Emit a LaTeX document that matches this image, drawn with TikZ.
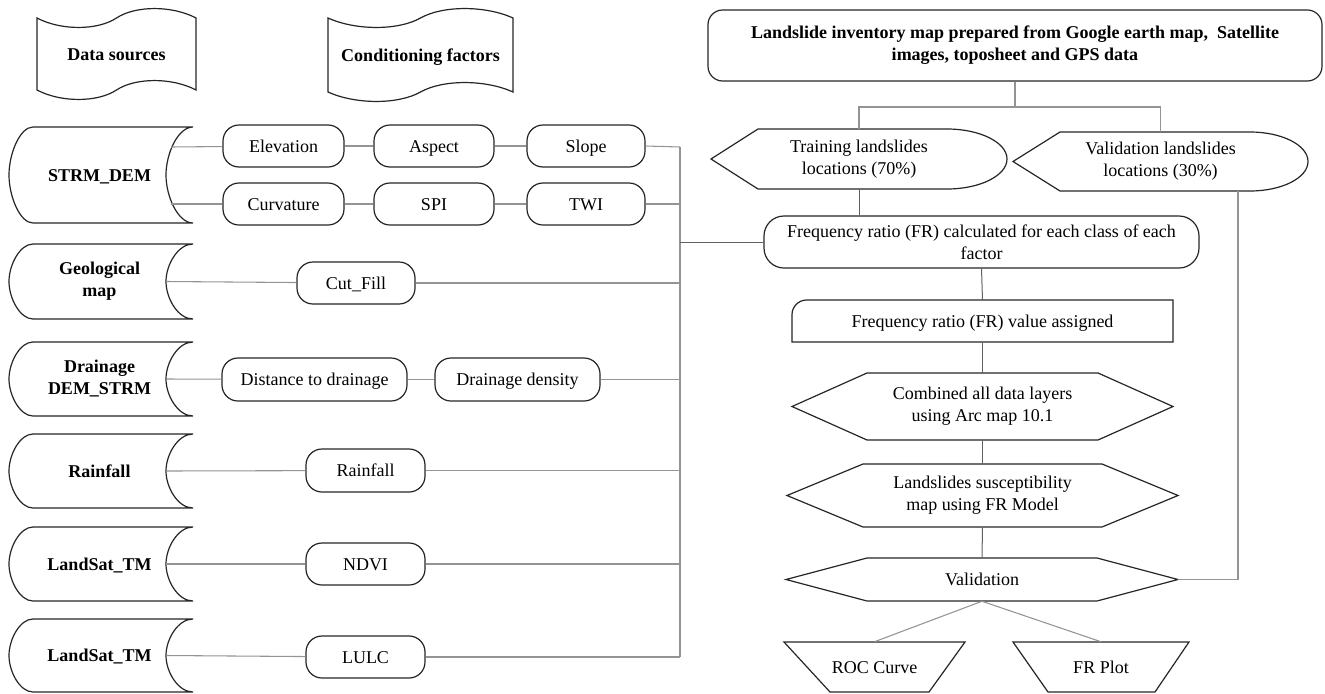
\documentclass[tikz,border=0pt]{standalone}
\usepackage{fontspec}
\setmainfont{Liberation Serif}
\usetikzlibrary{fit}
\newcommand\tapeshape[4]{%
 \draw[shp] (#1,#3) .. controls ({#1+0.15*(#2-#1)},{#3+12.6}) and ({#1+0.38*(#2-#1)},{#3+12.6}) .. ({#1+0.5*(#2-#1)},#3) .. controls ({#1+0.62*(#2-#1)},{#3-12.6}) and ({#1+0.85*(#2-#1)},{#3-12.6}) .. (#2,#3) -- (#2,#4) .. controls ({#1+0.85*(#2-#1)},{#4-12.6}) and ({#1+0.62*(#2-#1)},{#4-12.6}) .. ({#1+0.5*(#2-#1)},#4) .. controls ({#1+0.38*(#2-#1)},{#4+12.6}) and ({#1+0.15*(#2-#1)},{#4+12.6}) .. (#1,#4) -- cycle;}
\newcommand\srcshape[2]{%
 \draw[shp] (33,#1) -- (193,#1) .. controls (178,#1) and (166,{#1+0.276*(#2-#1)}) .. (166,{(#1+#2)/2}) .. controls (166,{#2-0.276*(#2-#1)}) and (178,#2) .. (193,#2) -- (33,#2) .. controls (20,#2) and (9,{#2-0.276*(#2-#1)}) .. (9,{(#1+#2)/2}) .. controls (9,{#1+0.276*(#2-#1)}) and (20,#1) .. cycle;}
\newcommand\hexashape[5]{%
 \draw[shp] (#1,{(#3+#4)/2}) -- ({#1+#5},#3) -- ({#2-#5},#3) -- (#2,{(#3+#4)/2}) -- ({#2-#5},#4) -- ({#1+#5},#4) -- cycle;}
% text node centred on a named shape node
\newcommand\tx[3]{\node[#1] (#2T) at (#2.center) {#3};}
\begin{document}
\begin{tikzpicture}[x=0.75pt,y=-0.75pt,
  every node/.style={font=\fontsize{13.5}{16.5}\selectfont},
  shp/.style={draw=black!85, line width=0.9pt},
  conn/.style={draw=black!42, line width=0.8pt},
  connd/.style={draw=black!62, line width=0.75pt},
  frame/.style={inner sep=0pt},
  box/.style={inner sep=0pt, align=center},
  sbox/.style={box, text height=11pt, text depth=2pt},
  bbox/.style={box, font=\fontsize{13.5}{16.5}\selectfont\bfseries},
  sbbox/.style={bbox, text height=11pt, text depth=2pt},
  pill/.style={frame, shp, rounded corners=12pt}]
\fill[white] (0,0) rectangle (1325,693);
\useasboundingbox (0,0) rectangle (1325,693);

% headers
\tapeshape{37}{196}{18}{90}
\node[frame, fit={(37,18) (196,90)}] (ds) {};
\tx{sbbox}{ds}{Data sources}
\tapeshape{328}{513}{18}{92}
\node[frame, fit={(328,18) (513,92)}] (cf) {};
\tx{sbbox}{cf}{Conditioning factors}

% data sources
\srcshape{127}{223}
\node[frame, fit={(33,127) (166,223)}] (strm) {};
\tx{sbbox}{strm}{STRM\_DEM}
\srcshape{244}{319}
\node[frame, fit={(33,244) (166,319)}] (geo) {};
\tx{bbox}{geo}{Geological\\map}
\srcshape{342}{416}
\node[frame, fit={(33,342) (166,416)}] (drain) {};
\tx{bbox}{drain}{Drainage\\DEM\_STRM}
\srcshape{434}{508}
\node[frame, fit={(33,434) (166,508)}] (rainsrc) {};
\tx{sbbox}{rainsrc}{Rainfall}
\srcshape{527}{601}
\node[frame, fit={(33,527) (166,601)}] (lsa) {};
\tx{sbbox}{lsa}{LandSat\_TM}
\srcshape{619}{692}
\node[frame, fit={(33,619) (166,692)}] (lsb) {};
\tx{sbbox}{lsb}{LandSat\_TM}

% conditioning factors
\node[pill, fit={(223,125) (344,167)}] (elev) {};
\tx{sbox}{elev}{Elevation}
\node[pill, fit={(374,125) (494,167)}] (asp) {};
\tx{sbox}{asp}{Aspect}
\node[pill, fit={(527,125) (645,167)}] (slope) {};
\tx{sbox}{slope}{Slope}
\node[pill, fit={(223,183) (344,225)}] (curv) {};
\tx{sbox}{curv}{Curvature}
\node[pill, fit={(374,183) (494,225)}] (spi) {};
\tx{sbox}{spi}{SPI}
\node[pill, fit={(527,183) (645,225)}] (twi) {};
\tx{sbox}{twi}{TWI}
\node[pill, fit={(297,262) (415,304)}] (cut) {};
\tx{sbox}{cut}{Cut\_Fill}
\node[pill, fit={(222,358) (407,401)}] (dist) {};
\tx{sbox}{dist}{Distance to drainage}
\node[pill, fit={(435,358) (600,401)}] (dens) {};
\tx{sbox}{dens}{Drainage density}
\node[pill, fit={(306,449) (425,492)}] (rain) {};
\tx{sbox}{rain}{Rainfall}
\node[pill, fit={(306,543) (425,585)}] (ndvi) {};
\tx{sbox}{ndvi}{NDVI}
\node[pill, fit={(306,636) (425,678)}] (lulc) {};
\tx{sbox}{lulc}{LULC}

\coordinate (strmA) at (171,147);
\coordinate (strmB) at (171,204);
\coordinate (busT) at (680,147);
\coordinate (busB) at (680,657);

\draw[conn] (strmA) -- (elev);
\draw[conn] (elev) -- (asp);
\draw[conn] (asp) -- (slope);
\draw[conn] (strmB) -- (curv);
\draw[conn] (curv) -- (spi);
\draw[conn] (spi) -- (twi);
\draw[conn] (geo.east) -- (cut);
\draw[conn] (drain.east) -- (dist);
\draw[conn] (dist) -- (dens);
\draw[conn] (rainsrc.east) -- (rain);
\draw[conn] (lsa.east) -- (ndvi);
\draw[conn] (lsb.east) -- (lulc);
\draw[conn] (slope.east) -- (busT);
\draw[conn] (twi.east) -- (twi.east -| busT);
\draw[conn] (cut.east) -- (cut.east -| busT);
\draw[conn] (dens.east) -- (dens.east -| busT);
\draw[conn] (rain.east) -- (rain.east -| busT);
\draw[conn] (ndvi.east) -- (ndvi.east -| busT);
\draw[conn] (lulc.east) -- (busB);
\draw[conn] (busT) -- (busB);

% right column
\node[frame, shp, rounded corners=11pt, fit={(708,10) (1322,81)}] (inv) {};
\tx{bbox}{inv}{Landslide inventory map prepared from Google earth map,\ \ Satellite\\images, toposheet and GPS data}

\draw[shp] (711,159) -- (758,129) -- (947,129) .. controls (980,129) and (1007,142.4) .. (1007,159) .. controls (1007,175.6) and (980,189) .. (947,189) -- (758,189) -- cycle;
\node[frame, fit={(711,129) (1007,189)}] (train) {};
\tx{box}{train}{Training landslides\\locations (70\%)}
\draw[shp] (1013,161.5) -- (1060,132) -- (1250,132) .. controls (1282,132) and (1308,145.2) .. (1308,161.5) .. controls (1308,177.8) and (1282,191) .. (1250,191) -- (1060,191) -- cycle;
\node[frame, fit={(1013,132) (1308,191)}] (valid) {};
\tx{box}{valid}{Validation landslides\\locations (30\%)}

\node[frame, shp, rounded corners=15pt, fit={(764,216) (1199,268)}] (frcalc) {};
\tx{box}{frcalc}{Frequency ratio (FR) calculated for each class of each\\factor}

\draw[shp] (792,342) [rounded corners=11pt] -- (792,300) [sharp corners] -- (1173,300) -- (1173,342) -- cycle;
\node[frame, fit={(792,300) (1173,342)}] (frval) {};
\tx{sbox}{frval}{Frequency ratio (FR) value assigned}

\hexashape{792}{1173}{373}{440}{75}
\node[frame, fit={(792,373) (1173,440)}] (comb) {};
\tx{box}{comb}{Combined all data layers\\using Arc map 10.1}
\hexashape{787}{1178}{464}{527}{76}
\node[frame, fit={(787,464) (1178,527)}] (lss) {};
\tx{box}{lss}{Landslides susceptibility\\map using FR Model}
\hexashape{786}{1178}{558}{601}{81}
\node[frame, fit={(786,558) (1178,601)}] (valhex) {};
\tx{sbox}{valhex}{Validation}

\draw[shp] (784,642) -- (965,642) -- (929,692) -- (830,692) -- cycle;
\node[frame, fit={(784,642) (965,692)}] (roc) {};
\tx{sbox}{roc}{ROC Curve}
\draw[shp] (1013,642) -- (1189,642) -- (1155,692) -- (1048,692) -- cycle;
\node[frame, fit={(1013,642) (1189,692)}] (frplot) {};
\tx{sbox}{frplot}{FR Plot}

\coordinate (split) at (1015,107);
\coordinate (vline) at (1238,0);
\draw[conn] (inv.south -| split) -- (split);
\draw[conn] (train.north) |- (split) -| (valid.north);
\draw[connd] (train.south) -- (train.south |- frcalc.north);
\draw[connd] (busT |- frcalc.west) -- (frcalc.west);
\draw[connd] (frcalc.south) -- (frval.north);
\draw[connd] (frval.south) -- (comb.north);
\draw[connd] (comb.south) -- (lss.north);
\draw[connd] (lss.south) -- (valhex.north);
\draw[conn] (valid.south -| vline) -- (vline |- valhex.east) -- (valhex.east);
\draw[conn] (valhex.south) -- (roc.north);
\draw[conn] (valhex.south) -- (frplot.north);
\end{tikzpicture}
\end{document}
